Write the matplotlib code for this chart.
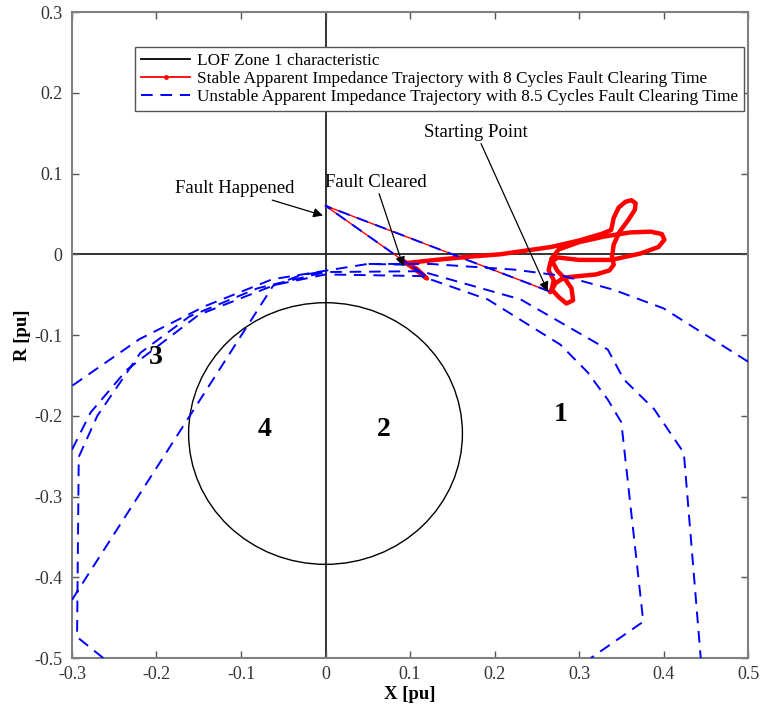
import numpy as np
import matplotlib
matplotlib.use('Agg')
import matplotlib.pyplot as plt
from matplotlib.patches import Circle
from matplotlib.lines import Line2D

plt.rcParams['font.family'] = ['Liberation Serif', 'DejaVu Serif']

# LOF zone 1 mho circle
circle_center = (0.0, -0.222)
circle_radius = 0.162

# stable trajectory (8 cycles): start -> fault -> fault-on path
red_jump_x = [0.265, 0.0, 0.092]
red_jump_y = [-0.046, 0.060, -0.008]
# dense part of stable trajectory (fault-on + post-fault swing)
red_dense_x = [0.092, 0.105, 0.120, 0.108, 0.095, 0.130, 0.170, 0.207, 0.240, 0.267,
               0.300, 0.326, 0.338, 0.341, 0.347, 0.355, 0.362, 0.367, 0.366, 0.358,
               0.348, 0.341, 0.339, 0.341, 0.336, 0.320, 0.300, 0.282, 0.272, 0.268,
               0.276, 0.285, 0.293, 0.291, 0.283, 0.274, 0.267, 0.276, 0.300, 0.330,
               0.360, 0.385, 0.398, 0.401, 0.394, 0.373, 0.338, 0.300, 0.275, 0.266,
               0.264, 0.270, 0.268, 0.266]
red_dense_y = [-0.008, -0.018, -0.030, -0.018, -0.011, -0.007, -0.003, 0.000, 0.005, 0.009,
               0.017, 0.025, 0.030, 0.045, 0.058, 0.065, 0.067, 0.063, 0.055, 0.042,
               0.028, 0.012, -0.003, -0.013, -0.020, -0.025, -0.027, -0.029, -0.036, -0.044,
               -0.053, -0.061, -0.057, -0.042, -0.030, -0.020, -0.006, 0.006, 0.015, 0.022,
               0.027, 0.028, 0.025, 0.018, 0.009, 0.001, -0.007, -0.007, -0.004, -0.010,
               -0.020, -0.032, -0.042, -0.047]

# unstable trajectory (8.5 cycles), NaN where it leaves the window
blue_x = [0.265, 0.0, 0.095, 0.120, 0.100, 0.050, 0.008, -0.063, -0.142, -0.220, -0.300, np.nan,
          0.500, 0.450, 0.400, 0.341, 0.282, 0.223, 0.124, 0.050, np.nan,
          -0.263, -0.294, -0.292, -0.270, -0.219, -0.161, -0.080, 0.0, 0.113, 0.231, 0.334,
          0.353, 0.389, 0.424, 0.444, np.nan,
          -0.300, -0.278, -0.235, -0.150, -0.060, 0.0, 0.113, 0.192, 0.278, 0.310, 0.334,
          0.350, 0.376, 0.314, np.nan,
          -0.300, -0.294, -0.062, -0.030, 0.0]
blue_y = [-0.046, 0.060, -0.010, -0.028, -0.013, -0.012, -0.019, -0.031, -0.064, -0.105, -0.163, np.nan,
          -0.133, -0.100, -0.067, -0.044, -0.027, -0.019, -0.012, -0.012, np.nan,
          -0.500, -0.474, -0.251, -0.200, -0.122, -0.077, -0.042, -0.022, -0.021, -0.056, -0.118,
          -0.155, -0.192, -0.246, -0.500, np.nan,
          -0.242, -0.196, -0.143, -0.075, -0.038, -0.025, -0.027, -0.056, -0.112, -0.146, -0.180,
          -0.208, -0.455, -0.500, np.nan,
          -0.428, -0.418, -0.039, -0.026, -0.021]

zone_labels = ['1', '2', '3', '4']
zone_x = [0.278, 0.069, -0.201, -0.072]
zone_y = [-0.198, -0.217, -0.128, -0.217]

fig = plt.figure(figsize=(7.61, 7.15), dpi=100)
ax = fig.add_axes([0.0946, 0.0797, 0.8884, 0.9035])

# characteristic: axes lines + mho circle
ax.axhline(0, color='#222222', lw=1.3, zorder=1)
ax.axvline(0, color='#222222', lw=1.3, zorder=1)
ax.add_patch(Circle(circle_center, circle_radius, fill=False, ec='black', lw=1.0, zorder=1))

ax.plot(red_jump_x, red_jump_y, color='red', lw=1.0, marker='.', ms=3, zorder=2)
ax.plot(red_dense_x, red_dense_y, color='red', lw=3.2, solid_joinstyle='round',
        solid_capstyle='round', zorder=2)
ax.plot(blue_x, blue_y, color='blue', lw=1.4, ls=(0, (6, 4)), zorder=3)

for lab, zx, zy in zip(zone_labels, zone_x, zone_y):
    ax.text(zx, zy, lab, fontsize=20, fontweight='bold', ha='center', va='center')

arrow = dict(arrowstyle='-|>', color='black', lw=0.9, mutation_scale=14, shrinkA=0, shrinkB=0)
ax.annotate('Starting Point', xy=(0.263, -0.046), xytext=(0.178, 0.151),
            fontsize=13.5, ha='center', va='center', arrowprops=arrow)
ax.annotate('Fault Cleared', xy=(0.092, -0.015), xytext=(0.059, 0.089),
            fontsize=13.5, ha='center', va='center', arrowprops=arrow)
ax.annotate('Fault Happened', xy=(-0.003, 0.048), xytext=(-0.107, 0.081),
            fontsize=13.5, ha='center', va='center', arrowprops=arrow)

handles = [Line2D([], [], color='black', lw=1.3),
           Line2D([], [], color='red', lw=1.3, marker='.', ms=5),
           Line2D([], [], color='blue', lw=1.4, ls=(0, (6, 4)))]
labels = ['LOF Zone 1 characteristic',
          'Stable Apparent Impedance Trajectory with 8 Cycles Fault Clearing Time',
          'Unstable Apparent Impedance Trajectory with 8.5 Cycles Fault Clearing Time']
leg = ax.legend(handles, labels, loc='upper right', bbox_to_anchor=(0.9935, 0.946),
                borderaxespad=0, fontsize=12.4, fancybox=False, framealpha=1,
                handlelength=2.9, handletextpad=0.35, labelspacing=0.12, borderpad=0.35)
leg.get_frame().set_edgecolor('#555555')
leg.get_frame().set_linewidth(1.0)

ax.set_xlim(-0.3, 0.5)
ax.set_ylim(-0.5, 0.3)
ax.set_xticks(np.arange(-0.3, 0.51, 0.1))
ax.set_yticks(np.arange(-0.5, 0.31, 0.1))
ax.set_xticklabels(['-0.3', '-0.2', '-0.1', '0', '0.1', '0.2', '0.3', '0.4', '0.5'])
ax.set_yticklabels(['-0.5', '-0.4', '-0.3', '-0.2', '-0.1', '0', '0.1', '0.2', '0.3'])
ax.tick_params(direction='in', length=5, width=1, colors='#555555', labelcolor='#333333',
               labelsize=13, top=True, right=True)
ax.tick_params(axis='x', pad=6)
ax.tick_params(axis='y', pad=7)
for s in ax.spines.values():
    s.set_color('#808080')
    s.set_linewidth(1.5)

ax.set_xlabel('X [pu]', fontsize=13.5, fontweight='bold', labelpad=2)
ax.set_ylabel('R [pu]', fontsize=13.5, fontweight='bold', labelpad=2)

fig.savefig('out.png', dpi=100)
